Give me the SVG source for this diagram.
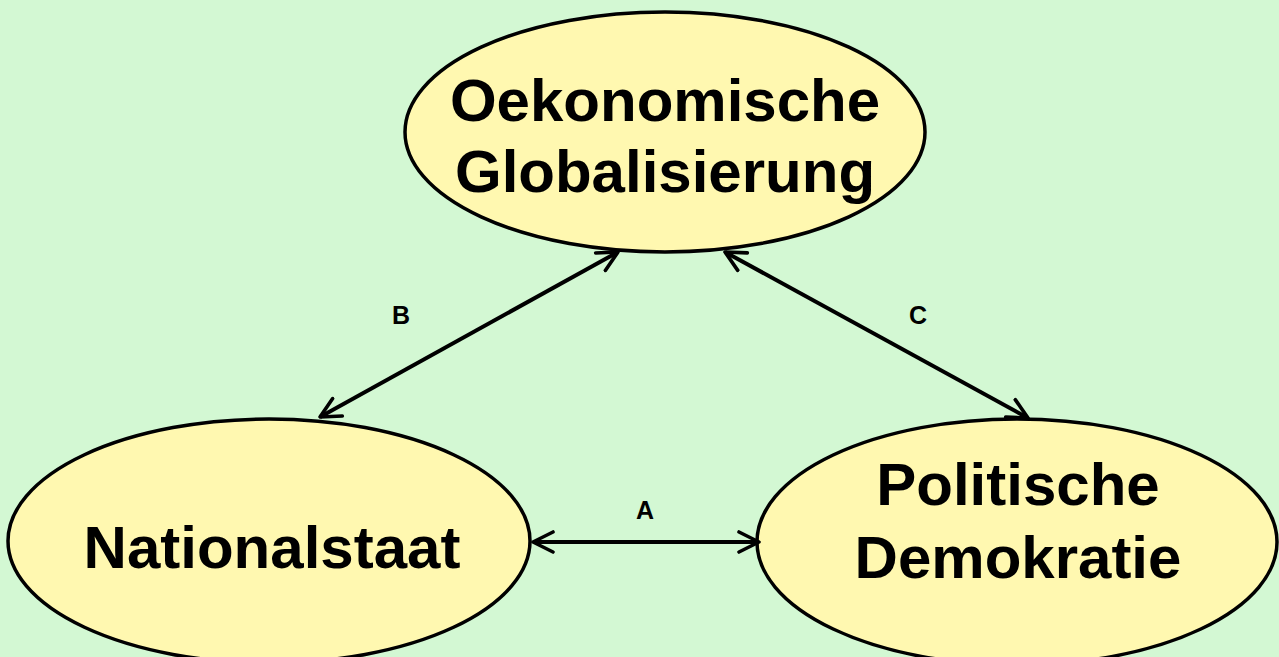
<svg xmlns="http://www.w3.org/2000/svg" width="1279" height="657" viewBox="0 0 1279 657">
<style>
.node ellipse{fill:#fff8b0;stroke:#000;stroke-width:3.5}
.lbl{font-family:"Liberation Sans",Arial,sans-serif;font-weight:bold;font-size:60px;fill:#000;text-anchor:middle}
.edge{stroke:#000;stroke-width:4;fill:none;marker-start:url(#ah);marker-end:url(#ah)}
.el{font-family:"Liberation Sans",Arial,sans-serif;font-weight:bold;font-size:25px;fill:#000;text-anchor:middle}
</style>
<defs>
<marker id="ah" viewBox="0 0 12 12" refX="11" refY="6" markerWidth="6" markerHeight="6" orient="auto-start-reverse" markerUnits="strokeWidth">
<path d="M1,1 L11,6 L1,11" fill="none" stroke="#000" stroke-width="1.8" stroke-linecap="round" stroke-linejoin="round"/>
</marker>
</defs>
<rect width="1279" height="657" fill="#d3f8d3"/>
<g id="n-oeko" class="node">
<ellipse cx="665" cy="132" rx="260" ry="120"/>
<text class="lbl" x="665" y="121">Oekonomische</text>
<text class="lbl" x="665" y="192">Globalisierung</text>
</g>
<g id="n-national" class="node">
<ellipse cx="269" cy="541" rx="261" ry="122"/>
<text class="lbl" x="272" y="568">Nationalstaat</text>
</g>
<g id="n-demokratie" class="node">
<ellipse cx="1017" cy="542" rx="260" ry="123"/>
<text class="lbl" x="1018" y="505">Politische</text>
<text class="lbl" x="1018" y="578">Demokratie</text>
</g>
<g id="connectors">
<line class="edge" x1="320" y1="417" x2="618" y2="252"/>
<line class="edge" x1="725" y1="252" x2="1028" y2="418"/>
<line class="edge" x1="533" y1="542" x2="759" y2="542"/>
<text class="el" x="401" y="324">B</text>
<text class="el" x="918" y="324">C</text>
<text class="el" x="645" y="519">A</text>
</g>
</svg>
